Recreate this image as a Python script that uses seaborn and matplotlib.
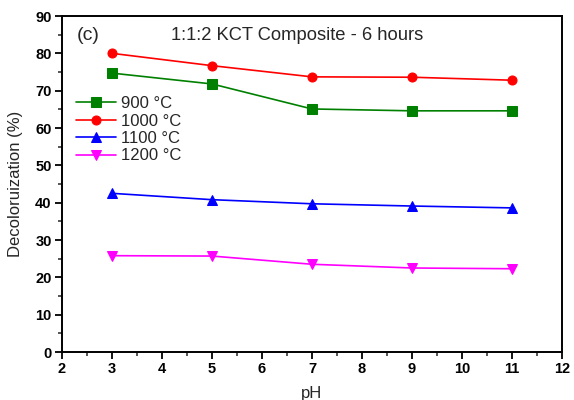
import matplotlib
matplotlib.use("Agg")
import matplotlib.pyplot as plt
import seaborn as sns
import pandas as pd
from matplotlib.ticker import MultipleLocator

ph = [3, 5, 7, 9, 11]
s900 = [74.7, 71.8, 65.1, 64.6, 64.6]
s1000 = [80.0, 76.7, 73.7, 73.6, 72.8]
s1100 = [42.5, 40.8, 39.7, 39.1, 38.6]
s1200 = [25.8, 25.7, 23.5, 22.5, 22.3]
labels = ["900 °C", "1000 °C", "1100 °C", "1200 °C"]
colors = ["#008000", "#ff0000", "#0000ff", "#ff00ff"]
markers = ["s", "o", "^", "v"]

sns.set_theme(style="white")
plt.rcParams['font.family'] = ['Liberation Sans', 'DejaVu Sans']

fig = plt.figure(figsize=(5.74, 4.0), dpi=100)
ax = fig.add_axes([62/574, 1-352/400, 500/574, 336/400])

for vals, lab, c, m in zip([s900, s1000, s1100, s1200], labels, colors, markers):
    df = pd.DataFrame({"pH": ph, "val": vals})
    sns.lineplot(data=df, x="pH", y="val", ax=ax, color=c, marker=m,
                 markersize=6.5, markeredgecolor=c, linewidth=1.2, label=lab)

ax.set_xlim(2, 12)
ax.set_ylim(0, 90)
ax.xaxis.set_major_locator(MultipleLocator(1))
ax.xaxis.set_minor_locator(MultipleLocator(0.5))
ax.yaxis.set_major_locator(MultipleLocator(10))
ax.yaxis.set_minor_locator(MultipleLocator(5))
ax.tick_params(axis='both', which='major', direction='out', length=5, width=1.3,
               bottom=True, left=True, top=False, right=False, labelsize=10.5, pad=2.5, colors='black')
ax.tick_params(axis='both', which='minor', direction='out', length=3, width=1.1,
               bottom=True, left=True, top=False, right=False)
for lbl in ax.get_xticklabels() + ax.get_yticklabels():
    lbl.set_fontweight('bold')
for sp in ax.spines.values():
    sp.set_color('black')
    sp.set_linewidth(1.4)

ax.set_xlabel("pH", fontsize=12, labelpad=7)
ax.set_ylabel("Decoloruization (%)", fontsize=12, labelpad=9)

ax.text(15/500, 1-(35-16)/336, "(c)", transform=ax.transAxes, fontsize=14, va='center', ha='left')
ax.text((297-62)/500, 1-(35-16)/336, "1:1:2 KCT Composite - 6 hours", transform=ax.transAxes,
        fontsize=13.2, va='center', ha='center')

leg = ax.legend(loc='upper left', bbox_to_anchor=(14/500, 1-(96-16)/336), frameon=False,
                fontsize=12, handlelength=2.4, handletextpad=0.3, labelspacing=0.15,
                borderaxespad=0.0, borderpad=0.0)

fig.savefig("out.png", dpi=100)
